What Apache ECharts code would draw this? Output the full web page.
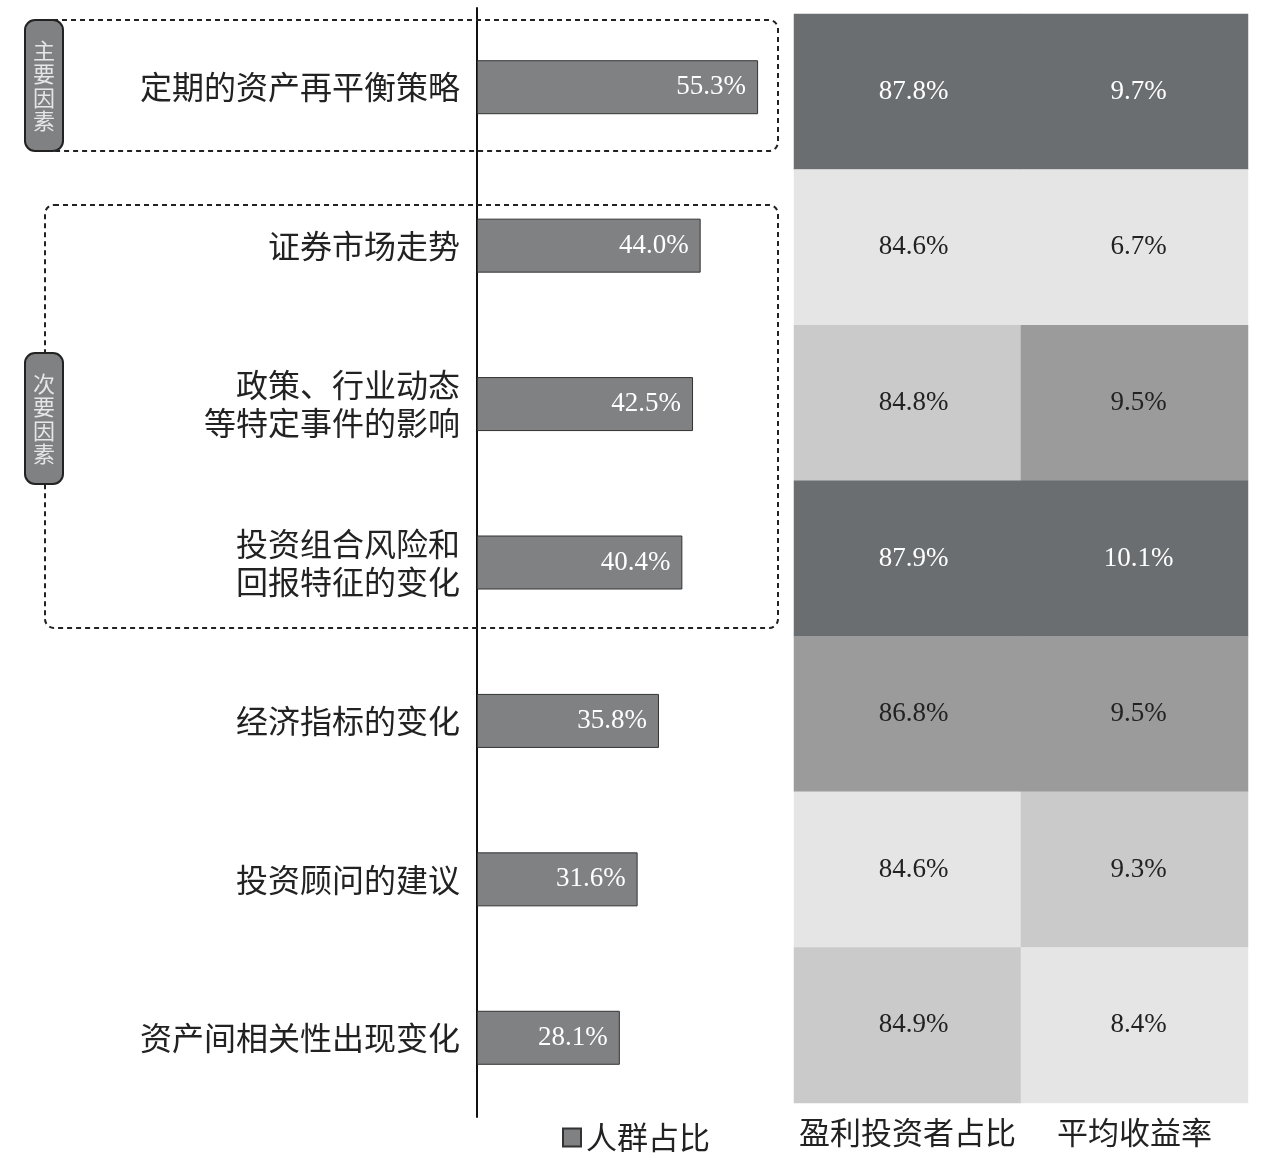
<!DOCTYPE html>
<html>
<head>
<meta charset="utf-8">
<script src="https://cdn.jsdelivr.net/npm/echarts@6/dist/echarts.min.js"></script>
<style>
  html, body { margin: 0; padding: 0; background: #fff; }
  #chart { width: 1283px; height: 1163px; }
</style>
</head>
<body>
<div id="chart"></div>
<script>
// data
var categories = ['定期的资产再平衡策略', '证券市场走势', '政策、行业动态\n等特定事件的影响', '投资组合风险和\n回报特征的变化', '经济指标的变化', '投资顾问的建议', '资产间相关性出现变化'];
var shareValues = [55.3, 44.0, 42.5, 40.4, 35.8, 31.6, 28.1];
var profitShare = [87.8, 84.6, 84.8, 87.9, 86.8, 84.6, 84.9];
var avgReturn = [9.7, 6.7, 9.5, 10.1, 9.5, 9.3, 8.4];
var columns = ['盈利投资者占比', '平均收益率'];

var cjk = 'Noto Sans CJK SC';
var serif = 'Liberation Serif';
var DARK = '#6b6e71', MID = '#9b9b9b', LIGHT = '#cacaca', PALE = '#e5e5e5';

function cells(values, col, darkFrom) {
    return values.map(function (v, i) {
        return { value: [col, i, v], label: { color: v >= darkFrom ? '#fff' : '#222' } };
    });
}

//side tags
function pill(y, text) {
    return [
        { type: 'rect', z: 100, shape: { x: 25, y: y, width: 38, height: 131, r: 10 },
          style: { fill: '#7f8183', stroke: '#222', lineWidth: 2 } },
        { type: 'text', z: 101, x: 44, y: y + 65.5,
          style: { text: text, fill: '#e6e6e6', font: '22px "Noto Sans CJK SC"', lineHeight: 23.5,
                   align: 'center', verticalAlign: 'middle' } }
    ];
}

function dashedBox(x, y, w, h) {
    return {
        type: 'rect', z: 10, silent: true,
        shape: { x: x, y: y, width: w, height: h, r: 9 },
        style: { fill: null, stroke: '#222', lineWidth: 2, lineDash: [5, 4] }
    };
}

var myChart = echarts.init(document.getElementById('chart'));
var option = {
    backgroundColor: '#fff',
    animation: false,
    legend: {
        data: ['人群占比'],
        left: 557,
        top: 1117,
        icon: 'rect',
        itemWidth: 18,
        itemHeight: 18,
        itemGap: 6,
        textStyle: { fontFamily: cjk, fontSize: 31, color: '#222' }
    },
    visualMap: [
        { type: 'piecewise', show: false, seriesIndex: 1, dimension: 2,
          pieces: [{ min: 87.5, color: DARK }, { min: 85.5, max: 87.5, color: MID },
                   { min: 84.7, max: 85.5, color: LIGHT }, { max: 84.7, color: PALE }] },
        { type: 'piecewise', show: false, seriesIndex: 2, dimension: 2,
          pieces: [{ min: 9.6, color: DARK }, { min: 9.4, max: 9.6, color: MID },
                   { min: 9.0, max: 9.4, color: LIGHT }, { max: 9.0, color: PALE }] }
    ],
    grid: [
        { left: 477, right: 501, top: 8, bottom: 46 },
        { left: 794, right: 35, top: 14, bottom: 60 }
    ],
    xAxis: [
        { type: 'value', gridIndex: 0, min: 0, max: 60, show: false },
        { type: 'category', gridIndex: 1, data: columns,
          axisLine: { show: false }, axisTick: { show: false }, splitLine: { show: false },
          axisLabel: { interval: 0, fontFamily: cjk, fontSize: 31, color: '#222', margin: 14 } }
    ],
    yAxis: [
        { type: 'category', gridIndex: 0, data: categories, inverse: true,
          axisLine: { show: true, lineStyle: { color: '#111', width: 2 } },
          axisTick: { show: false },
          axisLabel: { interval: 0, fontFamily: cjk, fontSize: 32, color: '#222', margin: 17, lineHeight: 38, align: 'right' } },
        { type: 'category', gridIndex: 1, data: categories, inverse: true, show: false }
    ],
    series: [
        {
            name: '人群占比',
            type: 'bar',
            xAxisIndex: 0, yAxisIndex: 0,
            data: shareValues,
            barWidth: 54,
            itemStyle: { color: '#7f8183', borderColor: '#333', borderWidth: 1 },
            label: {
                show: true, position: 'insideRight', distance: 12,
                color: '#fff', fontFamily: serif, fontSize: 27,
                formatter: function (p) { return p.value.toFixed(1) + '%'; }
            }
        },
        {
            name: columns[0], type: 'heatmap', xAxisIndex: 1, yAxisIndex: 1,
            data: cells(profitShare, 0, 87.5),
            label: { show: true, fontFamily: serif, fontSize: 27, offset: [6, 0],
                     formatter: function (p) { return p.value[2].toFixed(1) + '%'; } }
        },
        {
            name: columns[1], type: 'heatmap', xAxisIndex: 1, yAxisIndex: 1,
            data: cells(avgReturn, 1, 9.6),
            label: { show: true, fontFamily: serif, fontSize: 27, offset: [4, 0],
                     formatter: function (p) { return p.value[2].toFixed(1) + '%'; } }
        }
    ],
    graphic: [
        dashedBox(44, 20, 734, 131),
        dashedBox(45, 205, 733, 423)
    ].concat(pill(20, '主\n要\n因\n素'), pill(353, '次\n要\n因\n素'))
};
myChart.setOption(option);
</script>
</body>
</html>
